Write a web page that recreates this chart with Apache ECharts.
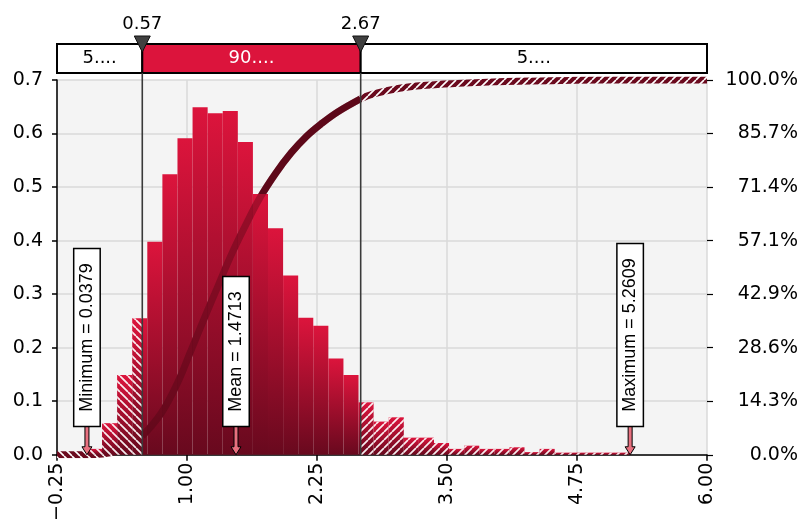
<!DOCTYPE html>
<html><head><meta charset="utf-8">
<script src="https://cdn.jsdelivr.net/npm/echarts@6/dist/echarts.min.js"></script>
<style>html,body{margin:0;padding:0;background:#fff}#c{width:801px;height:524px}</style>
</head><body><div id="c"></div>
<script>
// ---- data ----
const binMin = 0.0379;
const binMax = 5.2609;
const densities = [0.011,0.059,0.149,0.255,0.398,0.524,0.591,0.649,0.638,0.642,0.584,0.487,0.423,0.335,0.256,0.241,0.180,0.149,
                   0.098,0.062,0.070,0.032,0.032,0.022,0.011,0.017,0.011,0.011,0.014,0.005,0.011,0.004,0.004,0.004,0.004,0.004];
const cumX = [-0.25,0.0379,0.183,0.328,0.472,0.57,0.75,0.906,1.034,1.16,1.29,1.42,1.55,1.70,1.85,2.0,2.15,2.30,2.45,2.67,2.794,3.043,3.30,3.60,3.95,4.3,4.7,5.2609,6.0];
const cumY = [0,0,0.002,0.010,0.030,0.050,0.110,0.19,0.275,0.36,0.445,0.53,0.605,0.685,0.75,0.805,0.85,0.885,0.915,0.95,0.963,0.978,0.986,0.991,0.995,0.997,0.999,1.0,1.0];
const lowerBound = 0.57;
const upperBound = 2.67;
const bandLabels = ['5....','90....','5....'];
const statNames = ['Minimum','Mean','Maximum'];
const statValues = [0.0379, 1.4713, 5.2609];
const xMin = -0.25, xMax = 6.0, xStep = 1.25;
const yMax = 0.7, yStep = 0.1;
const pMax = 1, pStep = 1/7;

const FONT = '"DejaVu Sans", Verdana, sans-serif';
const STATFONT = '"Liberation Sans", Arial, sans-serif';

function hatch(dir, bg, fg, size, lw){
  const c = document.createElement('canvas'); c.width = c.height = size;
  const g = c.getContext('2d');
  if (bg){ g.fillStyle = bg; g.fillRect(0,0,size,size); }
  g.strokeStyle = fg; g.lineWidth = lw; g.beginPath();
  for (const k of [-size, 0, size]){
    if (dir === '/'){ g.moveTo(k, size); g.lineTo(k+size, 0); }
    else { g.moveTo(k, 0); g.lineTo(k+size, size); }
  }
  g.stroke();
  return {image: c, repeat: 'repeat'};
}
const hatchL = hatch('\\', null, 'rgba(255,255,255,0.92)', 8, 1.7);
const hatchR = hatch('/', null, 'rgba(255,255,255,0.92)', 8, 1.7);
const lineHatchL = hatch('\\', '#6B0A1E', '#ffffff', 8, 1.6);
const lineHatchR = hatch('/', '#6B0A1E', '#ffffff', 8, 1.6);

// bars split at the percentile bounds
const w = (binMax - binMin) / densities.length;
const barData = [];
densities.forEach((h, i) => {
  const lo = binMin + i*w, hi = lo + w;
  const cuts = [lo, ...[lowerBound, upperBound].filter(c => c > lo && c < hi), hi];
  for (let j = 0; j < cuts.length-1; j++){
    const a = cuts[j], b = cuts[j+1], m = (a+b)/2;
    barData.push([a, b, h, m < lowerBound ? 0 : (m > upperBound ? 2 : 1)]);
  }
});
const cumPts = cumX.map((x,i)=>[x, cumY[i]]);
const cumLeft = cumPts.filter(p => p[0] <= lowerBound);
const cumMid = cumPts.filter(p => p[0] >= lowerBound && p[0] <= upperBound);
const cumRight = cumPts.filter(p => p[0] >= upperBound);

const chart = echarts.init(document.getElementById('c'), null, {renderer:'canvas'});

function renderBars(params, api){
  const a = api.value(0), b = api.value(1), h = api.value(2), kind = api.value(3);
  const p1 = api.coord([a, h]), p2 = api.coord([b, 0]);
  const shape = {x: p1[0], y: p1[1], width: p2[0]-p1[0], height: p2[1]-p1[1]};
  const grad = new echarts.graphic.LinearGradient(0,0,0,1,[{offset:0,color:'#DC143C'},{offset:1,color:'#68091E'}]);
  const children = [{type:'rect', shape, style:{fill: grad}}];
  if (kind !== 1) children.push({type:'rect', shape, style:{fill: kind === 0 ? hatchL : hatchR}});
  return {type:'group', children};
}
function renderVLines(params, api){
  const x = api.value(0);
  const b = api.coord([x, 0]), t = api.coord([x, yMax]);
  return {type:'line', shape:{x1:b[0], y1:b[1], x2:t[0], y2:t[1]-7}, style:{stroke:'#3a3a3a', lineWidth:1.6}};
}
function renderStats(params, api){
  const x = api.value(0);
  const p = api.coord([x, 0]);
  const bottom = p[1] - 29;
  const cx = p[0];
  const txt = statNames[params.dataIndex] + ' = ' + statValues[params.dataIndex].toFixed(4);
  return {type:'group', children:[
    {type:'polygon', shape:{points:[[cx-2,bottom],[cx+2,bottom],[cx+2,p[1]-8],[cx+5,p[1]-8],[cx,p[1]],[cx-5,p[1]-8],[cx-2,p[1]-8]]},
     style:{fill:'#E8707F', stroke:'#000', lineWidth:1}},
    {type:'text', x:cx, y:bottom, rotation:Math.PI/2,
     style:{text:txt, font:'18px '+STATFONT, fill:'#000', align:'left', verticalAlign:'middle',
            backgroundColor:'#fff', borderColor:'#000', borderWidth:1.5, padding:[3,14,2,14], lineHeight:20}}
  ]};
}
const bandData = [[xMin, lowerBound, 0], [lowerBound, upperBound, 1], [upperBound, xMax, 2]];
function renderBand(params, api){
  const a = api.value(0), b = api.value(1), k = api.value(2);
  const p1 = api.coord([a, 1]), p2 = api.coord([b, 0]);
  const mid = k === 1;
  return {type:'group', children:[
    {type:'rect', shape:{x:p1[0], y:p1[1], width:p2[0]-p1[0], height:p2[1]-p1[1]},
     style:{fill: mid ? '#DC143C' : '#fff', stroke:'#000', lineWidth:2}},
    {type:'text', x:(p1[0]+p2[0])/2, y:(p1[1]+p2[1])/2,
     style:{text: bandLabels[k], font:'18px '+FONT, fill: mid ? '#fff' : '#000', align:'center', verticalAlign:'middle'}}
  ]};
}
function renderMarkers(params, api){
  const x = api.value(0);
  const p = api.coord([x, 1]);
  return {type:'group', children:[
    {type:'polygon', shape:{points:[[p[0]-8,p[1]-8],[p[0]+8,p[1]-8],[p[0],p[1]+8]]}, style:{fill:'#404040', stroke:'#111', lineWidth:1}},
    {type:'text', x:p[0], y:p[1]-11, style:{text:x.toFixed(2), font:'18px '+FONT, fill:'#000', align:'center', verticalAlign:'bottom'}}
  ]};
}

const labelStyle = {fontSize:19, fontFamily:FONT, color:'#000'};
chart.setOption({
  animation:false,
  backgroundColor:'#fff',
  grid:[
    {left:57, right:94, top:80, bottom:69, show:true, backgroundColor:'#F4F4F4', borderWidth:0},
    {left:57, right:94, top:44, height:29, show:false}
  ],
  xAxis:[
    {type:'value', gridIndex:0, min:xMin, max:xMax, interval:xStep,
     axisLine:{show:true, onZero:false, lineStyle:{color:'#000', width:1.5}},
     axisTick:{show:true, length:6, lineStyle:{color:'#000', width:1.5}},
     axisLabel:Object.assign({rotate:90, margin:8, showMinLabel:true, showMaxLabel:true,
       formatter:v=>(v < 0 ? '\u2212' + Math.abs(v).toFixed(2) : v.toFixed(2))}, labelStyle),
     splitLine:{show:true, lineStyle:{color:'#DADADA', width:1.5}}},
    {type:'value', gridIndex:1, min:xMin, max:xMax, show:false}
  ],
  yAxis:[
    {type:'value', gridIndex:0, position:'left', min:0, max:yMax, interval:yStep,
     axisLine:{show:true, onZero:false, lineStyle:{color:'#000', width:1.5}},
     axisTick:{show:true, length:5, lineStyle:{color:'#000', width:1.5}},
     axisLabel:Object.assign({margin:14, formatter:v=>v.toFixed(1)}, labelStyle),
     splitLine:{show:true, lineStyle:{color:'#DADADA', width:1.5}}},
    {type:'value', gridIndex:0, position:'right', min:0, max:pMax, interval:pStep,
     axisLine:{show:false, onZero:false},
     axisTick:{show:true, length:6, lineStyle:{color:'#000', width:1.2}},
     axisLabel:Object.assign({margin:91, align:'right', formatter:v=>(v*100).toFixed(1)+'%'}, labelStyle),
     splitLine:{show:false}},
    {type:'value', gridIndex:1, min:0, max:1, show:false}
  ],
  series:[
    {type:'line', xAxisIndex:0, yAxisIndex:1, data:cumLeft, showSymbol:false, symbol:'none', smooth:0.4, z:2,
     lineStyle:{color:lineHatchL, width:7}},
    {type:'line', xAxisIndex:0, yAxisIndex:1, data:cumMid, showSymbol:false, symbol:'none', smooth:0.4, z:2,
     lineStyle:{color:'#6B0A1E', width:7}},
    {type:'line', xAxisIndex:0, yAxisIndex:1, data:cumRight, showSymbol:false, symbol:'none', smooth:0.4, z:2,
     lineStyle:{color:lineHatchR, width:7}},
    {type:'custom', xAxisIndex:0, yAxisIndex:0, data:barData, renderItem:renderBars, encode:{x:[0,1], y:2}, z:3},
    {type:'line', xAxisIndex:0, yAxisIndex:1, data:cumMid, showSymbol:false, symbol:'none', smooth:0.4, z:4,
     lineStyle:{color:'rgba(70,5,18,0.35)', width:7}},
    {type:'custom', xAxisIndex:0, yAxisIndex:0, data:[[lowerBound],[upperBound]], renderItem:renderVLines, encode:{x:0}, z:5},
    {type:'custom', xAxisIndex:0, yAxisIndex:0, data:statValues.map(v=>[v]), renderItem:renderStats, encode:{x:0}, z:6},
    {type:'custom', xAxisIndex:1, yAxisIndex:2, data:bandData, renderItem:renderBand, encode:{x:[0,1]}, z:2},
    {type:'custom', xAxisIndex:1, yAxisIndex:2, data:[[lowerBound],[upperBound]], renderItem:renderMarkers, encode:{x:0}, z:3}
  ]
});
</script></body></html>
